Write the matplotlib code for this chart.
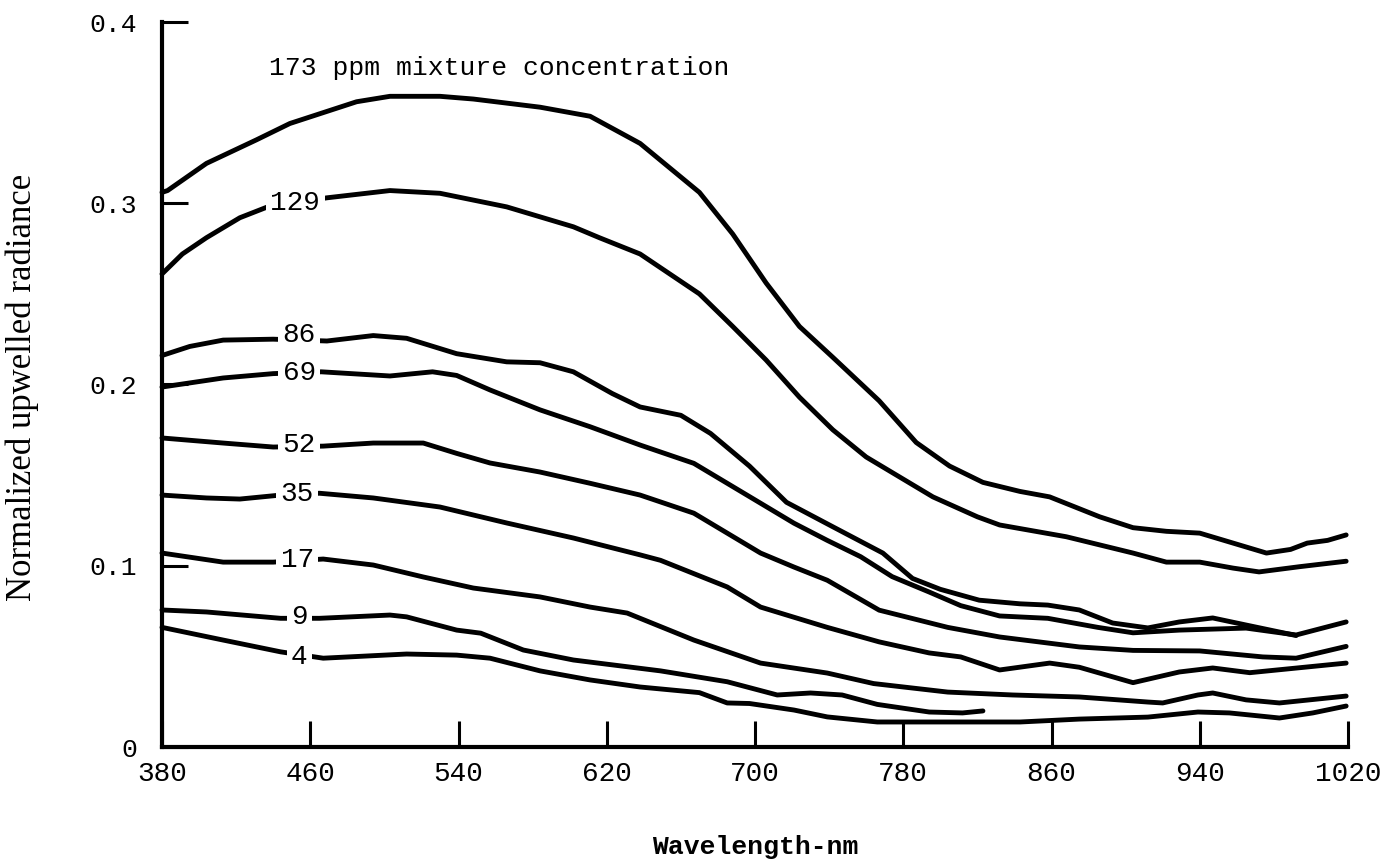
import matplotlib.pyplot as plt

# Upwelled radiance spectra for each mixture concentration (ppm)
wl_173 = [380, 383, 404, 431, 449, 467, 485, 503, 530, 548, 584, 611, 638, 670, 688, 706, 724,
          742, 767, 787, 805, 823, 843, 859, 886, 904, 922, 940, 958, 976, 989, 998, 1009, 1019]
rad_173 = [0.306, 0.307, 0.322, 0.335, 0.344, 0.350, 0.356, 0.359, 0.359, 0.3575, 0.353, 0.348,
           0.333, 0.306, 0.283, 0.256, 0.232, 0.215, 0.191, 0.168, 0.155, 0.146, 0.141, 0.138,
           0.127, 0.121, 0.119, 0.118, 0.1125, 0.107, 0.109, 0.1125, 0.114, 0.117]

wl_129 = [380, 391, 404, 422, 437, 469, 503, 530, 566, 602, 616, 638, 670, 688, 706, 724,
          742, 760, 796, 820, 832, 868, 904, 922, 940, 958, 972, 994, 1019]
rad_129 = [0.261, 0.272, 0.281, 0.292, 0.298, 0.303, 0.307, 0.3055, 0.298, 0.287, 0.281, 0.272,
           0.250, 0.232, 0.2135, 0.193, 0.175, 0.160, 0.138, 0.127, 0.1225, 0.116, 0.107, 0.102,
           0.102, 0.0987, 0.0966, 0.0995, 0.1025]

wl_86 = [380, 395, 413, 440, 469, 494, 512, 539, 566, 584, 602, 623, 638, 660, 676, 697, 717,
         742, 769, 785, 800, 821, 843, 858, 875, 893, 912, 929, 947, 965, 992]
rad_86 = [0.216, 0.221, 0.2245, 0.225, 0.224, 0.227, 0.2255, 0.217, 0.2125, 0.212, 0.207, 0.195,
          0.1876, 0.183, 0.173, 0.155, 0.135, 0.1215, 0.107, 0.093, 0.087, 0.081, 0.079, 0.0783,
          0.0756, 0.0684, 0.0657, 0.069, 0.0712, 0.0673, 0.0615]

wl_69 = [380, 413, 440, 466, 503, 526, 539, 557, 584, 611, 638, 667, 685, 703, 721, 739, 757,
         774, 794, 811, 832, 858, 885, 904, 929, 965, 992, 1019]
rad_69 = [0.1986, 0.2036, 0.206, 0.207, 0.2047, 0.207, 0.205, 0.197, 0.186, 0.1767, 0.1666,
          0.1565, 0.1455, 0.1345, 0.1235, 0.114, 0.105, 0.094, 0.0855, 0.078, 0.0723, 0.071,
          0.066, 0.063, 0.0645, 0.0656, 0.0618, 0.069]

wl_52 = [380, 413, 440, 467, 494, 521, 539, 557, 584, 611, 638, 667, 685, 703, 721, 739, 767,
         804, 832, 875, 904, 940, 974, 992, 1019]
rad_52 = [0.1705, 0.1677, 0.1655, 0.166, 0.1677, 0.1677, 0.162, 0.1567, 0.1517, 0.1455, 0.139,
          0.129, 0.118, 0.107, 0.0993, 0.092, 0.0755, 0.066, 0.0607, 0.0552, 0.0533, 0.053,
          0.0497, 0.049, 0.0555]

wl_35 = [380, 404, 422, 444, 465, 494, 530, 566, 602, 638, 649, 685, 703, 739, 767, 794, 811,
         832, 859, 875, 904, 929, 947, 967, 1019]
rad_35 = [0.139, 0.1374, 0.1368, 0.139, 0.140, 0.1374, 0.1324, 0.1236, 0.1153, 0.106, 0.103,
          0.0883, 0.0772, 0.066, 0.058, 0.0519, 0.0497, 0.0425, 0.0463, 0.044, 0.0355, 0.0414,
          0.0436, 0.041, 0.0463]

wl_17 = [380, 413, 440, 467, 494, 521, 548, 584, 611, 631, 667, 703, 739, 764, 804, 839, 875,
         912, 920, 939, 947, 965, 983, 1019]
rad_17 = [0.107, 0.102, 0.102, 0.1037, 0.1004, 0.0938, 0.0877, 0.0828, 0.0772, 0.0739, 0.059,
          0.0463, 0.0408, 0.035, 0.0303, 0.0287, 0.0276, 0.0248, 0.0243, 0.0287, 0.0298, 0.026,
          0.0243, 0.0281]

wl_9 = [380, 404, 444, 465, 503, 512, 539, 552, 575, 602, 649, 685, 712, 730, 747, 766, 794,
        812, 823]
rad_9 = [0.0756, 0.0745, 0.071, 0.071, 0.0728, 0.0718, 0.0645, 0.0628, 0.0535, 0.048, 0.042,
         0.036, 0.0287, 0.0298, 0.0287, 0.0235, 0.0193, 0.0188, 0.0199]

wl_4 = [380, 413, 444, 467, 512, 539, 557, 584, 611, 638, 670, 685, 697, 721, 739, 766, 811,
        843, 875, 912, 939, 956, 983, 1001, 1019]
rad_4 = [0.066, 0.059, 0.0525, 0.049, 0.0513, 0.0507, 0.049, 0.042, 0.037, 0.0331, 0.030,
         0.0243, 0.024, 0.0204, 0.0166, 0.0138, 0.0138, 0.0138, 0.0154, 0.0165, 0.0193, 0.0188,
         0.016, 0.0188, 0.0226]

curves = [(wl_173, rad_173), (wl_129, rad_129), (wl_86, rad_86), (wl_69, rad_69),
          (wl_52, rad_52), (wl_35, rad_35), (wl_17, rad_17), (wl_9, rad_9), (wl_4, rad_4)]

# inline concentration labels: text, wavelength, radiance
conc_labels = ['129', '86', '69', '52', '35', '17', '9', '4']
label_wl = [452, 454, 454, 454, 453, 453, 454, 454]
label_rad = [0.300, 0.2273, 0.2063, 0.1666, 0.1396, 0.1032, 0.0717, 0.0497]

x_ticks = [380, 460, 540, 620, 700, 780, 860, 940, 1020]
y_ticks = [0, 0.1, 0.2, 0.3, 0.4]
y_ticklabels = ['0', '0.1', '0.2', '0.3', '0.4']

mono = 'Liberation Mono'

fig = plt.figure(figsize=(13.83, 8.63), dpi=100)
ax = fig.add_axes([162 / 1383, 1 - 747 / 863, 1186 / 1383, 725 / 863])

for wl, rad in curves:
    ax.plot(wl, rad, color='black', linewidth=3.5, solid_capstyle='round',
            solid_joinstyle='round', clip_on=False, zorder=2)

for txt, xw, yr in zip(conc_labels, label_wl, label_rad):
    ax.text(xw, yr, txt, ha='center', va='center', fontsize=20, family=mono,
            bbox=dict(facecolor='white', edgecolor='none', pad=3), zorder=3)

ax.text(438, 0.3746, '173 ppm mixture concentration', ha='left', va='center',
        fontsize=19, family=mono)

ax.set_xlim(380, 1020)
ax.set_ylim(0, 0.4)
ax.spines['top'].set_visible(False)
ax.spines['right'].set_visible(False)
ax.spines['left'].set_linewidth(3)
ax.spines['bottom'].set_linewidth(3)

ax.set_xticks(x_ticks)
ax.set_xticklabels([str(t) for t in x_ticks])
ax.set_yticks(y_ticks)
ax.set_yticklabels(y_ticklabels)
ax.tick_params(axis='both', direction='in', length=19, width=2.2, color='black')
ax.tick_params(axis='x', pad=10, labelsize=20)
ax.tick_params(axis='y', pad=18, labelsize=19)
for lbl in ax.get_xticklabels() + ax.get_yticklabels():
    lbl.set_family(mono)

fig.text(0.546, 1 - 847 / 863, 'Wavelength-nm', ha='center', va='center',
         fontsize=19, family=mono, fontweight='bold')
fig.text(22 / 1383, 1 - 387 / 863, 'Normalized upwelled radiance', ha='center', va='center',
         rotation=90, fontsize=25, family='Liberation Serif')

fig.savefig('out.png', dpi=100, facecolor='white')
